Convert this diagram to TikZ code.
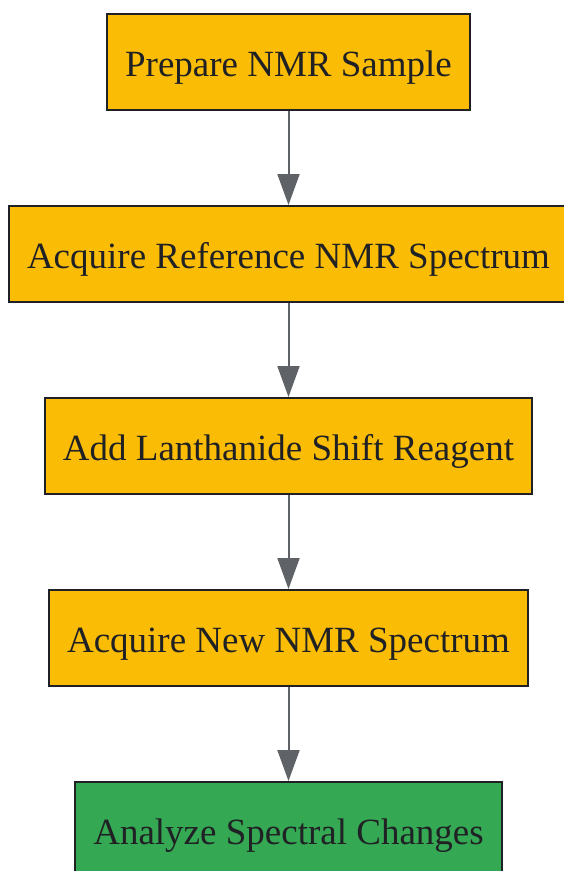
\documentclass[tikz,border=0pt]{standalone}
\usepackage{fontspec}
\setmainfont{Liberation Serif}
\usepackage{tikz}
\usetikzlibrary{arrows.meta}
\definecolor{boxyellow}{HTML}{FBBC05}
\definecolor{boxgreen}{HTML}{34A853}
\definecolor{edgegray}{HTML}{5F6368}
\definecolor{inkdark}{HTML}{202124}

\begin{document}
\begin{tikzpicture}[x=1pt, y=-1pt,
  stepbox/.style={draw=inkdark, line width=2pt, fill=boxyellow, text=inkdark,
    inner xsep=18pt, inner ysep=0pt, minimum height=96pt,
    text height=29pt, text depth=0pt,
    font=\fontsize{37}{44}\selectfont},
  donebox/.style={stepbox, fill=boxgreen},
  flowarrow/.style={draw=edgegray, line width=2pt,
    -{Triangle[length=31pt, width=22pt]}}]
\useasboundingbox (0,0) rectangle (564,871);
%
\node[stepbox] (prep) at (288.5,62) {Prepare NMR Sample};
\node[stepbox] (ref) at (288.5,254) {Acquire Reference NMR Spectrum};
\node[stepbox] (lsr) at (288.5,446) {Add Lanthanide Shift Reagent};
\node[stepbox] (new) at (288.5,638) {Acquire New NMR Spectrum};
\node[donebox] (ana) at (288.5,830) {Analyze Spectral Changes};
%
\draw[flowarrow] (prep) -- (ref);
\draw[flowarrow] (ref) -- (lsr);
\draw[flowarrow] (lsr) -- (new);
\draw[flowarrow] (new) -- (ana);
\end{tikzpicture}
\end{document}
